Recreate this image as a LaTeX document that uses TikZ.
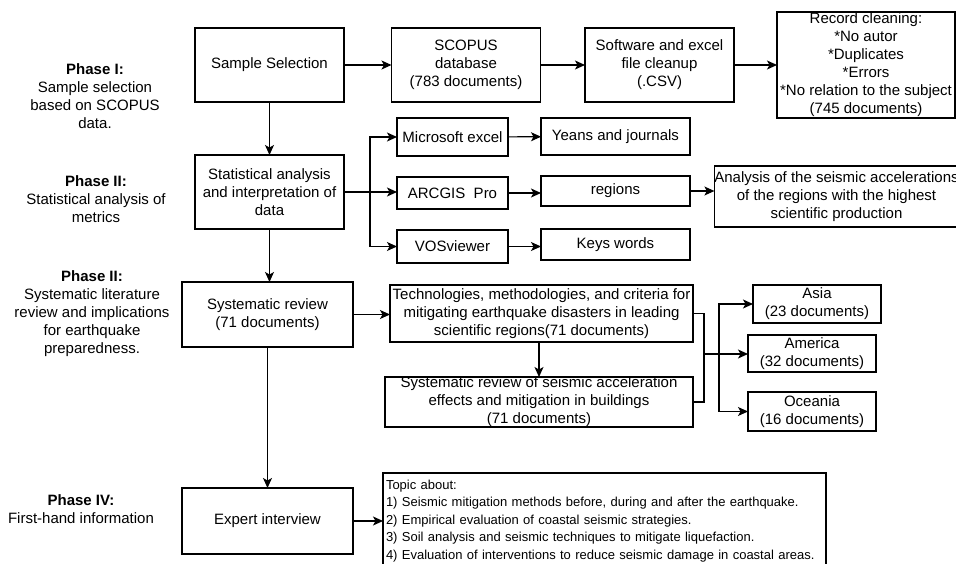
\documentclass[tikz,border=0pt]{standalone}
\usepackage{fontspec}
\setmainfont{Liberation Sans}
\usetikzlibrary{arrows.meta}

\begin{document}
\begin{tikzpicture}[x=1pt,y=-1pt,line width=1.1pt,
  every node/.style={font=\fontsize{15}{18}\selectfont, align=center, inner sep=0pt, outer sep=0pt},
  box/.style={draw, minimum width=#1},
  arr/.style={-{Stealth[length=10pt,width=9pt,inset=2.5pt]}}]
\useasboundingbox (0,0) rectangle (956,564);

\node at (95,96) {\textbf{Phase I:}\\Sample selection\\based on SCOPUS\\data.};
\node at (96,199.5) {\textbf{Phase II:}\\Statistical analysis of\\metrics};
\node at (92,313.5) {\textbf{Phase II:}\\Systematic literature\\review and implications\\for earthquake\\preparedness.};
\node at (81,509.5) {\textbf{Phase IV:}\\First-hand information};

\node[box=149pt, minimum height=74pt] (ss) at (269.5,65) {Sample Selection};
\node[box=149pt, minimum height=74pt] (scopus) at (466,65) {SCOPUS\\database\\(783 documents)};
\node[box=149pt, minimum height=74pt] (soft) at (659.5,65) {Software and excel\\file cleanup\\(.CSV)};
\node[box=178pt, minimum height=106pt] (rec) at (866,65) {Record cleaning:\\*No autor\\*Duplicates\\*Errors\\*No relation to the subject\\(745 documents)};

\node[box=149pt, minimum height=74pt] (stat) at (269.5,192) {Statistical analysis\\and interpretation of\\data};
\node[box=111pt, minimum height=38pt] (excel) at (452.5,137) {Microsoft excel};
\node[box=111pt, minimum height=32pt] (arcgis) at (452.5,193) {ARCGIS\ \ Pro};
\node[box=111pt, minimum height=33pt] (vos) at (452.5,246.5) {VOSviewer};
\node[box=149pt, minimum height=37pt] (yeans) at (615.5,136.5) {Yeans and journals};
\node[box=149pt, minimum height=30pt] (regions) at (615.5,191) {regions};
\node[box=149pt, minimum height=31pt] (keys) at (615.5,244.5) {Keys words};
\node[box=241pt, minimum height=61pt] (anal) at (836.5,196.5) {Analysis of the seismic accelerations\\of the regions with the highest\\scientific production};

\node[box=171pt, minimum height=65pt] (sr) at (267.5,314.5) {Systematic review\\(71 documents)};
\node[box=303pt, minimum height=57pt] (tech) at (541.5,313.5) {Technologies, methodologies, and criteria for\\mitigating earthquake disasters in leading\\scientific regions(71 documents)};
\node[box=308pt, minimum height=50pt] (sys) at (539,402) {Systematic review of seismic acceleration\\effects and mitigation in buildings\\(71 documents)};
\node[box=128pt, minimum height=38pt] (asia) at (817,304) {Asia\\(23 documents)};
\node[box=128pt, minimum height=37pt] (amer) at (812,353.5) {America\\(32 documents)};
\node[box=128pt, minimum height=39pt] (ocea) at (812,411.5) {Oceania\\(16 documents)};

\node[box=171pt, minimum height=66pt] (exp) at (267.5,521) {Expert interview};
\node[draw, anchor=north west, align=left, text width=437pt, inner xsep=3pt, inner ysep=7pt, font=\fontsize{13}{17.5}\selectfont] (topic) at (383,473) {Topic about:\\1) Seismic mitigation methods before, during and after the earthquake.\\2) Empirical evaluation of coastal seismic strategies.\\3) Soil analysis and seismic techniques to mitigate liquefaction.\\4) Evaluation of interventions to reduce seismic damage in coastal areas.};

\coordinate (sj) at (370,192);
\coordinate (rj) at (704,354);
\coordinate (rk) at (719,354);

\draw[arr] (ss) -- (scopus);
\draw[arr] (scopus) -- (soft);
\draw[arr] (soft) -- (rec);
\draw[arr] (ss.south) -- (ss.south |- stat.north);
\draw (stat.east) -- (sj);
\draw[arr] (sj) |- (excel.west);
\draw[arr] (sj) -- (arcgis.west |- sj);
\draw[arr] (sj) |- (vos.west);
\draw[arr] (excel) -- (yeans);
\draw[arr] (arcgis.east) -- (arcgis.east -| regions.west);
\draw[arr] (vos.east) -- (vos.east -| keys.west);
\draw[arr] (regions.east) -- (regions.east -| anal.west);
\draw[arr] (stat.south) -- (stat.south |- sr.north);
\draw[arr] (sr.east) -- (sr.east -| tech.west);
\draw[arr] (tech.south -| sys.north) -- (sys.north);
\draw (tech.east) -| (rj) |- (sys.east);
\draw (rj) -- (rk);
\draw[arr] (rk) |- (asia.west);
\draw[arr] (rk) -- (amer.west |- rk);
\draw[arr] (rk) |- (ocea.west);
\draw[arr] (sr.south) -- (sr.south |- exp.north);
\draw[arr] (exp.east) -- (exp.east -| topic.west);
\end{tikzpicture}
\end{document}
